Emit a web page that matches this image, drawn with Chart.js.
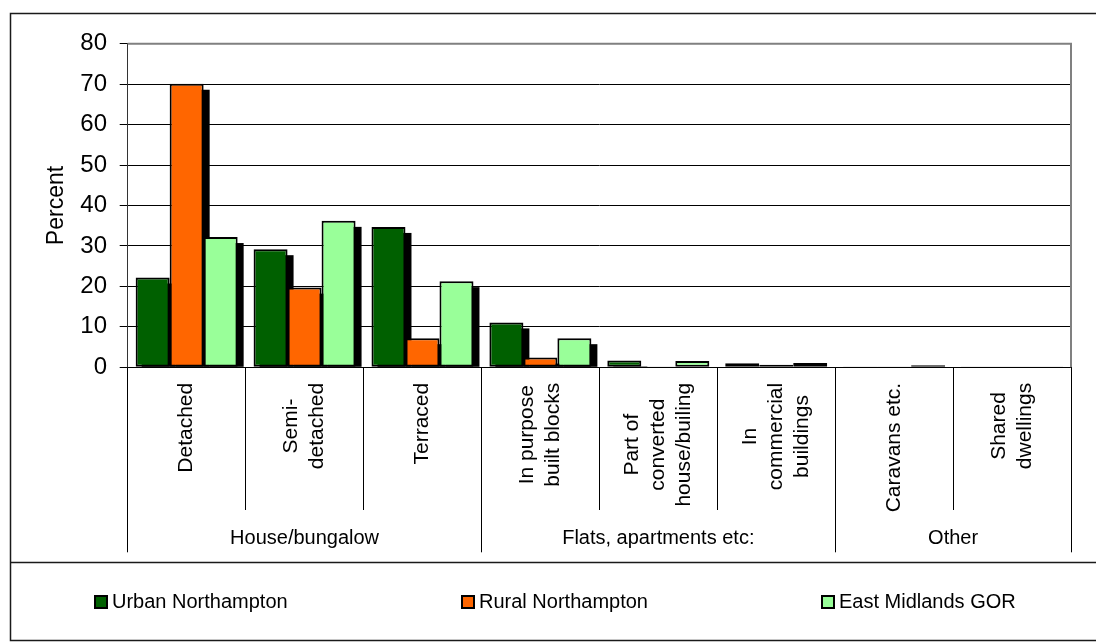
<!DOCTYPE html>
<html>
<head>
<meta charset="utf-8">
<script src="https://cdn.jsdelivr.net/npm/chart.js@4.4.1/dist/chart.umd.min.js"></script>
<style>
  body { margin: 0; background: #fff; }
  #wrap { position: relative; width: 1096px; height: 643px; }
  .leg { position: absolute; top: 590px; font: 20px "Liberation Sans", Arial, sans-serif; color: #000; white-space: nowrap; }
  .leg i { display: inline-block; width: 10px; height: 10px; border: 2px solid #000; margin-right: 4px; vertical-align: -1px; }
</style>
</head>
<body>
<div id="wrap">
  <canvas id="grafico"></canvas>
  <div class="leg" style="left:94px"><i style="background:#006000"></i>Urban Northampton</div>
  <div class="leg" style="left:461px"><i style="background:#ff6600"></i>Rural Northampton</div>
  <div class="leg" style="left:821px"><i style="background:#99ff99"></i>East Midlands GOR</div>
</div>
<script>
const FONTE = '"Liberation Sans", Arial, sans-serif';

// categorias (uma linha por item do array)
const categorias = [
  ['Detached'], ['Semi-', 'detached'], ['Terraced'],
  ['In purpose', 'built blocks'], ['Part of', 'converted', 'house/builing'], ['In', 'commercial', 'buildings'],
  ['Caravans etc.'], ['Shared', 'dwellings']
];
const grupos = ['House/bungalow', 'Flats, apartments etc:', 'Other'];
const tamanhoGrupos = [3, 3, 2];

const urbano = [22.2, 29.2, 34.7, 11.1, 1.7, 1.0, 0.1, 0.2];
const rural = [70.1, 19.7, 7.2, 2.4, 0.1, 0.65, 0.05, 0.05];
const eastMidlands = [32.2, 36.2, 21.3, 7.2, 1.55, 1.05, 0.5, 0.2];

const eixoY = { min: 0, max: 80, passo: 10 };

const SOMBRA = 6;

// sombras, rótulos em dois níveis e molduras
const decoracao = {
  id: 'decoracao',
  beforeDatasetsDraw(chart) {
    const { ctx, chartArea: a } = chart;
    ctx.save();
    ctx.beginPath();
    ctx.rect(a.left, a.top, a.right - a.left, a.bottom - a.top);
    ctx.clip();
    ctx.fillStyle = '#000';
    chart.data.datasets.forEach((ds, i) => {
      chart.getDatasetMeta(i).data.forEach(barra => {
        const { x, y, base, width } = barra.getProps(['x', 'y', 'base', 'width'], true);
        const topo = y + SOMBRA;
        if (base - topo > 0) ctx.fillRect(x - width / 2 + SOMBRA, topo, width, base - topo);
      });
    });
    ctx.restore();
  },
  afterDraw(chart) {
    const { ctx, chartArea: a } = chart;
    const sx = chart.scales.x;
    ctx.save();

    // borda cinza da área do gráfico
    ctx.strokeStyle = '#808080';
    ctx.lineWidth = 2;
    ctx.beginPath();
    ctx.moveTo(a.left, a.top);
    ctx.lineTo(a.right, a.top);
    ctx.lineTo(a.right, a.bottom);
    ctx.stroke();

    // separadores dos grupos
    ctx.strokeStyle = '#000';
    ctx.lineWidth = 1;
    let ini = 0;
    const limites = [0];
    tamanhoGrupos.forEach(n => { ini += n; limites.push(ini); });
    limites.forEach(b => {
      const x = Math.round(sx.getPixelForValue(b - 0.5) - 0.5) + 0.5;
      ctx.beginPath();
      ctx.moveTo(x, a.bottom);
      ctx.lineTo(x, a.bottom + 185);
      ctx.stroke();
    });

    // rótulos das categorias (verticais)
    ctx.fillStyle = '#000';
    ctx.font = '21px ' + FONTE;
    ctx.textAlign = 'center';
    ctx.textBaseline = 'middle';
    categorias.forEach((linhas, i) => {
      const cx = sx.getPixelForValue(i);
      const largura = Math.max(...linhas.map(l => ctx.measureText(l).width));
      ctx.save();
      ctx.translate(cx, a.bottom + 15.5 + largura / 2);
      ctx.rotate(-Math.PI / 2);
      linhas.forEach((l, j) => ctx.fillText(l, 0, (j - (linhas.length - 1) / 2) * 26));
      ctx.restore();
    });

    // rótulos dos grupos
    ctx.font = '20px ' + FONTE;
    grupos.forEach((g, k) => {
      const x0 = sx.getPixelForValue(limites[k] - 0.5);
      const x1 = sx.getPixelForValue(limites[k + 1] - 0.5);
      ctx.fillText(g, (x0 + x1) / 2, a.bottom + 171);
    });

    // moldura externa
    ctx.strokeStyle = '#1a1a1a';
    ctx.lineWidth = 1.5;
    ctx.strokeRect(10.5, 13.5, 1200, 627);
    ctx.beginPath();
    ctx.moveTo(10.5, 562.5);
    ctx.lineTo(1096, 562.5);
    ctx.stroke();
    ctx.restore();
  }
};

const ctx = document.getElementById('grafico').getContext('2d');
new Chart(ctx, {
  type: 'bar',
  data: {
    labels: categorias,
    datasets: [
      { label: 'Urban Northampton', data: urbano, backgroundColor: '#006000' },
      { label: 'Rural Northampton', data: rural, backgroundColor: '#ff6600' },
      { label: 'East Midlands GOR', data: eastMidlands, backgroundColor: '#99ff99' }
    ]
  },
  options: {
    responsive: true,
    maintainAspectRatio: false,
    animation: false,
    layout: { padding: { left: 0, top: 43.7, right: 25, bottom: 75.7 } },
    datasets: {
      bar: {
        borderColor: '#000',
        borderWidth: 2,
        borderSkipped: false,
        categoryPercentage: 0.865,
        barPercentage: 1
      }
    },
    plugins: {
      legend: { display: false },
      tooltip: { enabled: false }
    },
    scales: {
      x: {
        grid: { offset: true, drawOnChartArea: false, drawTicks: true, tickLength: 142.7, color: '#000' },
        border: { color: '#000', width: 1 },
        ticks: { display: false, autoSkip: false },
        afterFit: s => { s.height = 200; }
      },
      y: {
        min: eixoY.min,
        max: eixoY.max,
        ticks: { stepSize: eixoY.passo, color: '#000', font: { size: 24, family: FONTE }, padding: 12.7 },
        grid: {
          color: c => (c.tick && c.tick.value === eixoY.max) ? 'rgba(0,0,0,0)' : '#000',
          tickColor: '#000',
          tickLength: 8
        },
        border: { color: '#333', width: 1 },
        title: { display: true, text: 'Percent', color: '#000', font: { size: 23, family: FONTE }, padding: { top: 42.9, bottom: 0 } },
        afterFit: s => { s.width = 127.7; }
      }
    }
  },
  plugins: [decoracao]
});
</script>
</body>
</html>
